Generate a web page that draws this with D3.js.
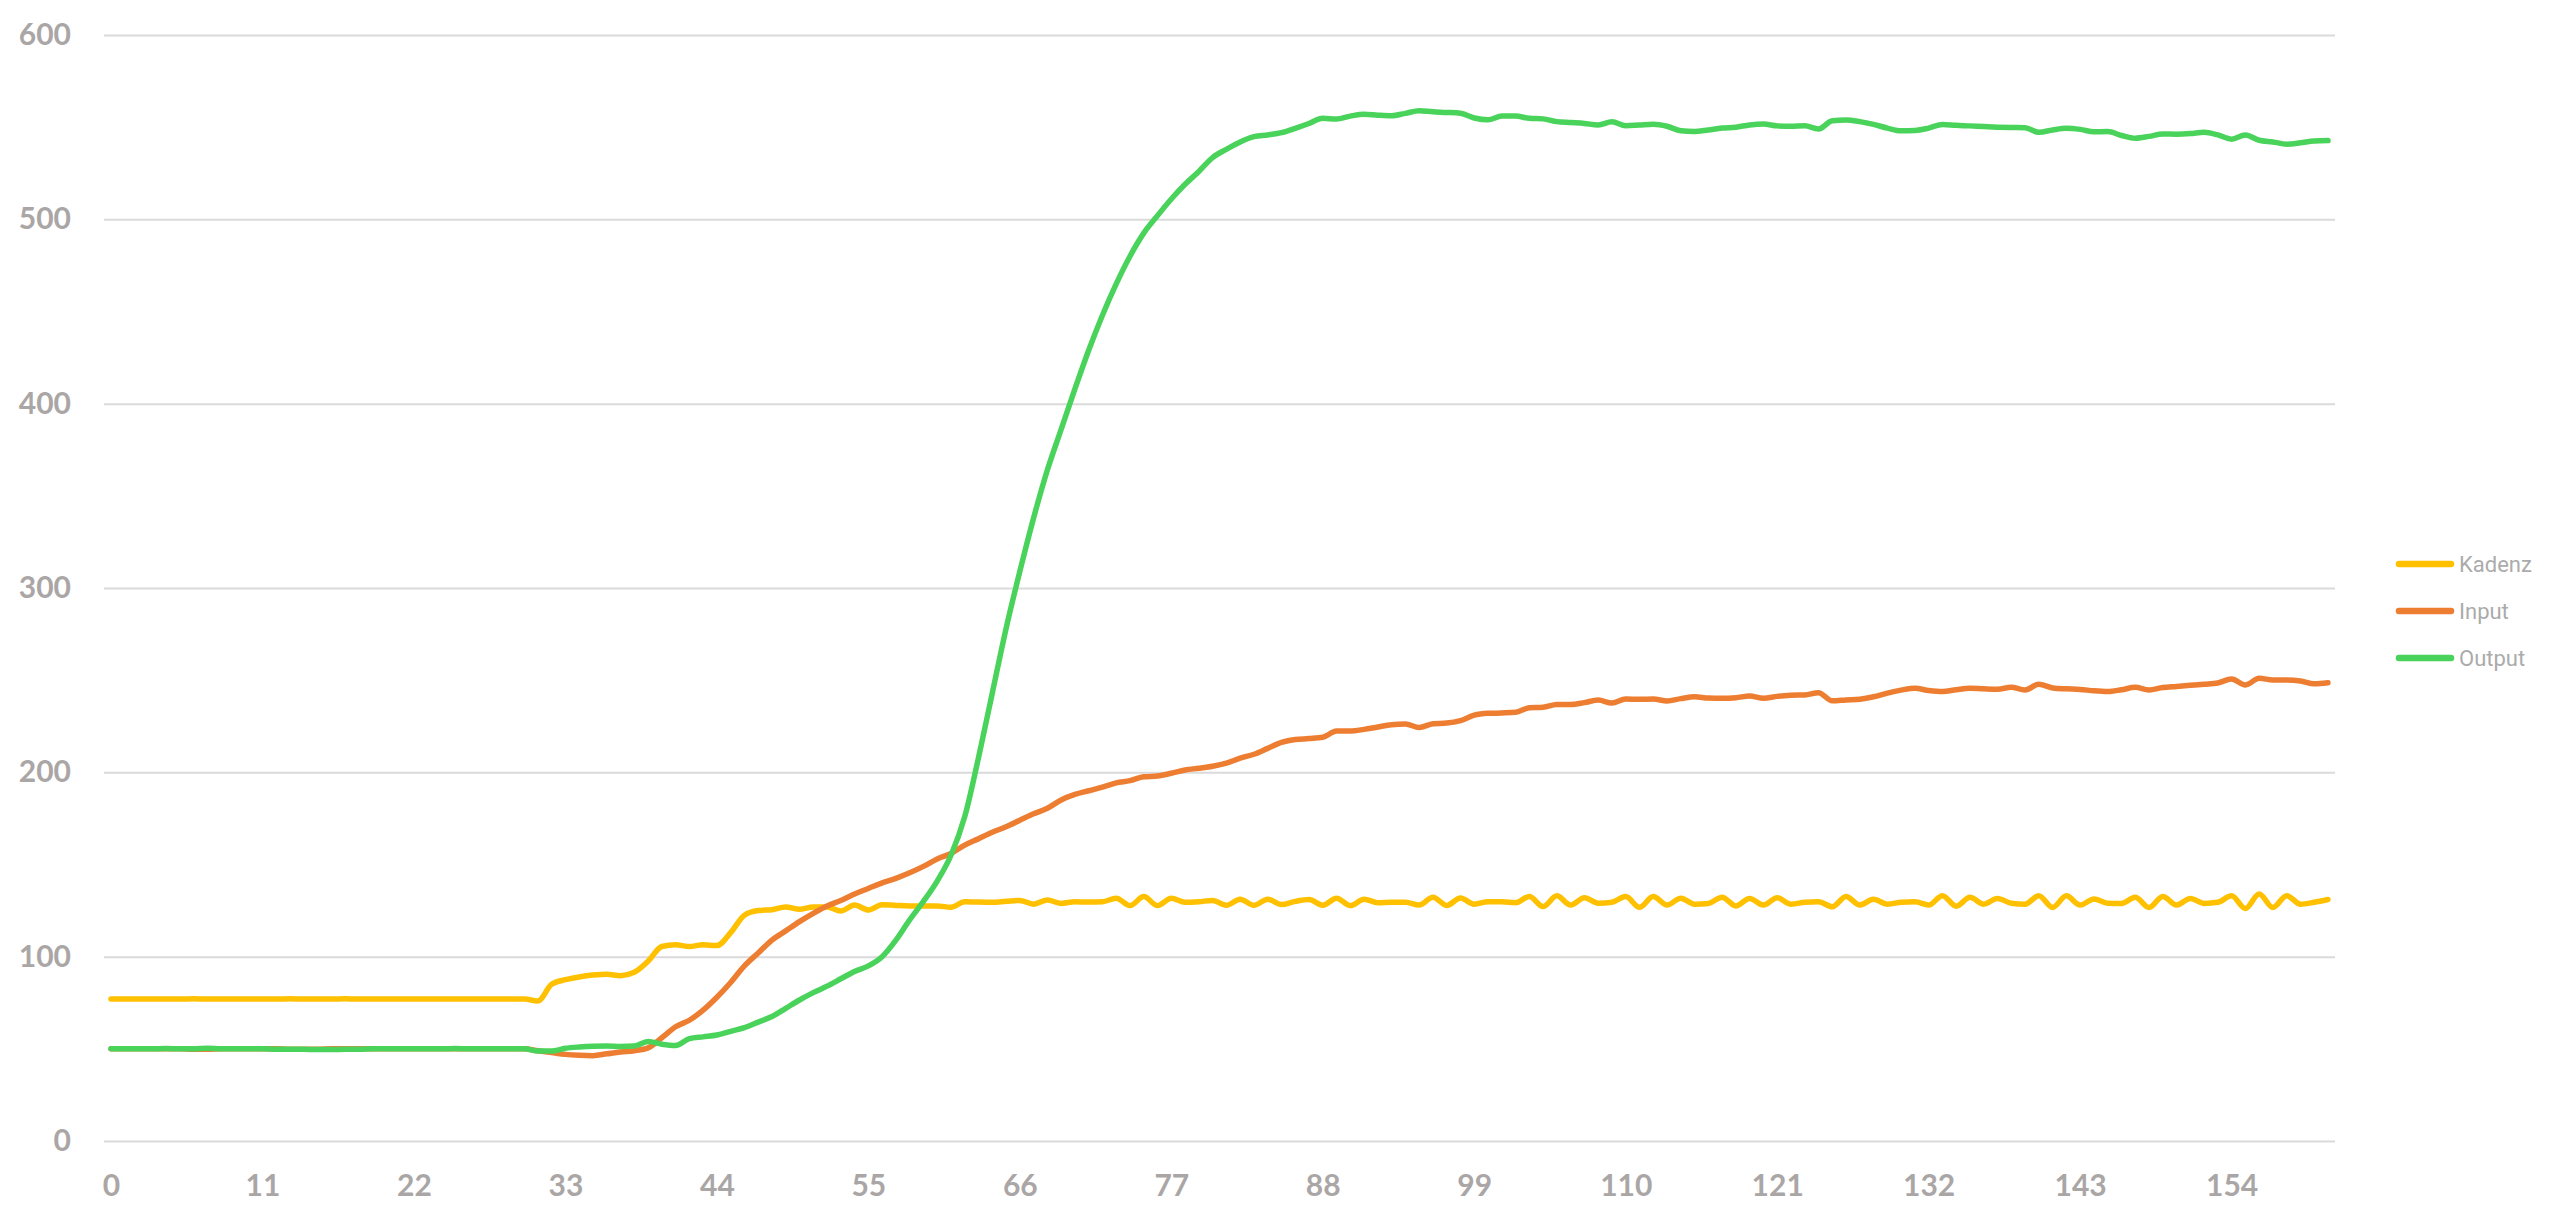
<!DOCTYPE html>
<html>
<head>
<meta charset="utf-8">
<script src="https://cdn.jsdelivr.net/npm/d3@7"></script>
<style>
  html, body { margin: 0; padding: 0; background: #ffffff; }
  svg { display: block; }
</style>
</head>
<body>
<svg id="chart" width="2560" height="1223"></svg>
<script>
// ---- Data ----
const seriesNames = ["Kadenz", "Input", "Output"];
const seriesColors = ["#FFC000", "#ED7D31", "#49D35B"];
const xTicks = [0, 11, 22, 33, 44, 55, 66, 77, 88, 99, 110, 121, 132, 143, 154];
const yTicks = [0, 100, 200, 300, 400, 500, 600];

const kadenz = [
  77,77,77,77,77,77,77.2,77,77,77,77,77,77,77.2,77,77,77,77.2,77,77,77,77,77,77,77,77,77,77,77,77,
  77,76,85,87.5,89,90,90.5,89.7,91.5,97.5,105.5,106.5,105.5,106.5,106,113,122.5,125,125.5,127,
  125.7,127,127,124.8,128,125.3,128.2,127.8,127.5,127.5,127.5,126.8,129.8,129.6,129.5,130,130.5,128.5,130.7,128.9,
  129.8,129.6,129.8,131.7,127.7,132.6,127.7,131.7,129.5,129.8,130.5,127.9,131.2,127.9,131.2,128.3,130,131,127.9,131.7,
  127.7,131.2,129.3,129.5,129.5,128,132.3,127.8,131.8,128.5,129.8,129.8,129.3,132.6,127.2,133,128,132,129,129.5,
  132.6,126.8,132.6,128,131.7,128.5,128.9,132.3,127.5,131.6,128,132,128.5,129.5,129.8,127.1,132.7,128,131.1,128.5,
  129.5,129.8,128,133.1,127.4,132.2,128.5,131.6,129,128.5,133.1,126.7,133,128,131.3,129,128.9,132.2,126.7,132.7,
  128,131.6,128.9,129.5,133,126.1,134,126.7,133.1,128.5,129.5,131
];

const input = [
  50,50,50,50,50,50,49.8,49.8,50,50,50,50,50,49.8,49.8,49.8,50,50,50,50,50,50,50,50,50,50,50,50,50,50,
  50,49,48,47,46.5,46.3,47.3,48.3,49,50.5,56,62,65.5,71,78,86,95,102,109,114,
  119,123.5,127.5,130.5,134,137,140,142.5,145.5,149,153,156,160.5,164,167.5,170.5,174,177.5,180.5,185,
  188,190,192,194.3,195.5,197.6,198,199.5,201.3,202.2,203.3,205,207.7,209.8,213,216.2,217.8,218.3,219,222.4,
  222.4,223.3,224.6,225.8,226.2,224.3,226.4,226.7,228,231,232,232.2,232.6,235,235.3,236.8,236.8,237.8,239.2,237.6,
  239.8,239.6,239.8,238.7,240,241,240.3,240.2,240.5,241.4,240.2,241.2,241.8,242,243.2,238.8,239.3,239.7,241,243,
  244.6,245.6,244.4,243.8,244.8,245.6,245.3,245.1,246.1,244.7,247.8,245.8,245.3,245,244.2,243.8,244.8,246.1,244.7,246,
  246.6,247.2,247.8,248.5,250.6,247.4,251,250.1,250.1,249.6,248,248.6
];

const output = [
  50,50,50,50,50.2,50,50,50.3,50,50,50,50,49.8,49.8,49.8,49.6,49.6,49.8,49.8,50,50,50,50,50,50,50.2,50,50,50,50,
  50,48.8,48.8,50.3,51,51.4,51.5,51.3,51.5,54,52.5,51.8,55.5,56.5,57.5,59.5,61.5,64.5,67.5,72,
  76.5,80.5,84,88,92,95,100,109,120,130,141,155,176,208,243,278,309,338,364,386,
  408,429,448,465,480,492.5,502,511,519,526,533.5,538,542,544.9,545.8,547,549.4,552,554.8,554.4,
  556,557,556.5,556.2,557.5,558.9,558.3,558,557.5,555,554,556,556,554.8,554.5,553,552.5,552,551.2,553,
  550.8,551.2,551.6,550.5,548,547.6,548.5,549.5,550,551.2,551.7,550.7,550.5,550.8,549,553.5,553.9,553,551.5,549.5,
  548,548.2,549.5,551.5,551,550.7,550.3,550,549.8,549.7,547.2,548.5,549.4,548.8,547.5,547.6,545.5,544,545,546.3,
  546.2,546.5,547.2,545.8,543.5,545.8,542.9,542,540.8,541.5,542.5,542.7
];

const allSeries = [kadenz, input, output];

// ---- Chart ----
const svg = d3.select("#chart");
const gridLeft = 104, gridRight = 2335;
const x = d3.scaleLinear().domain([0, 161]).range([111, 2328]);
const y = d3.scaleLinear().domain([0, 600]).range([1141, 35]);

const labelColor = "#aaa6a6";
const labelFont = "Lato, 'Open Sans', sans-serif";

// Y axis with gridlines
const yAxis = d3.axisLeft(y)
  .tickValues(yTicks)
  .tickSize(-(gridRight - gridLeft))
  .tickPadding(33)
  .tickFormat(d3.format("d"));

const gy = svg.append("g")
  .attr("transform", `translate(${gridLeft},0)`)
  .call(yAxis);
gy.select(".domain").remove();
gy.selectAll(".tick line").attr("stroke", "#dadada").attr("stroke-width", 2);
gy.selectAll(".tick text")
  .attr("fill", labelColor)
  .style("font-family", labelFont)
  .style("font-weight", "700")
  .style("font-size", "30px");

// X axis
const xAxis = d3.axisBottom(x)
  .tickValues(xTicks)
  .tickSize(0)
  .tickPadding(34)
  .tickFormat(d3.format("d"));

const gx = svg.append("g")
  .attr("transform", `translate(0,${y(0)})`)
  .call(xAxis);
gx.select(".domain").remove();
gx.selectAll(".tick text")
  .attr("fill", labelColor)
  .style("font-family", labelFont)
  .style("font-weight", "700")
  .style("font-size", "30px");

// Lines
const line = d3.line()
  .x((d, i) => x(i))
  .y(d => y(d))
  .curve(d3.curveMonotoneX);

svg.append("g").selectAll("path")
  .data(allSeries)
  .join("path")
  .attr("d", d => line(d))
  .attr("fill", "none")
  .attr("stroke", (d, i) => seriesColors[i])
  .attr("stroke-width", 5.5)
  .attr("stroke-linejoin", "round")
  .attr("stroke-linecap", "round");

// Legend
const legend = svg.append("g").attr("transform", "translate(2399,564)");
const items = legend.selectAll("g")
  .data(seriesNames)
  .join("g")
  .attr("transform", (d, i) => `translate(0,${i * 47})`);
items.append("line")
  .attr("x1", 0).attr("x2", 52)
  .attr("y1", 0).attr("y2", 0)
  .attr("stroke", (d, i) => seriesColors[i])
  .attr("stroke-width", 6.5)
  .attr("stroke-linecap", "round");
items.append("text")
  .attr("x", 60)
  .attr("y", 0)
  .attr("dy", "0.36em")
  .attr("fill", "#ababab")
  .style("font-family", "Roboto, sans-serif")
  .style("font-size", "22px")
  .text(d => d);
</script>
</body>
</html>
